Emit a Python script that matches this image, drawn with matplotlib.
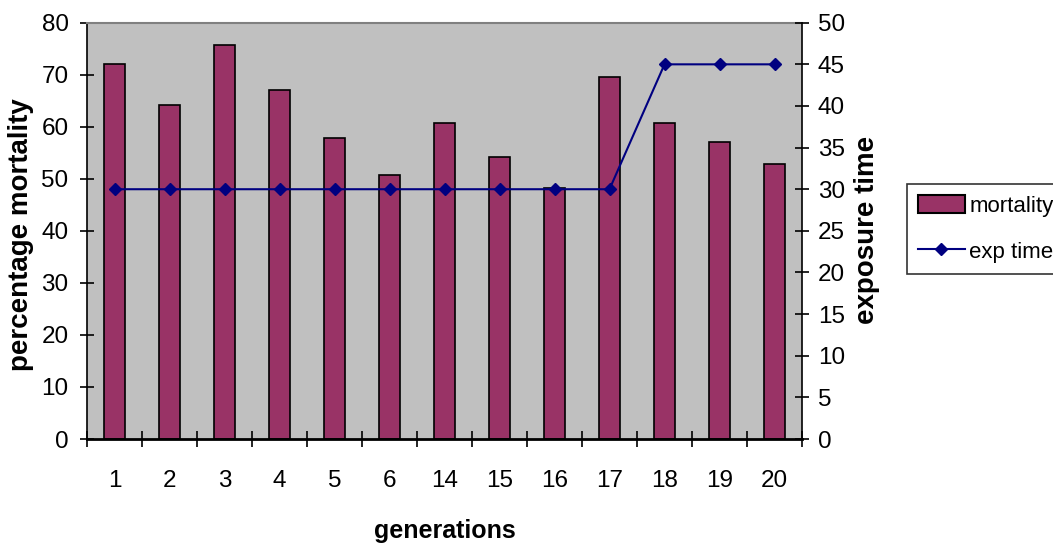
import matplotlib
matplotlib.use("Agg")
import matplotlib.pyplot as plt
from matplotlib.patches import Patch
from matplotlib.lines import Line2D

generations = ["1", "2", "3", "4", "5", "6", "14", "15", "16", "17", "18", "19", "20"]
mortality = [72.0, 64.2, 75.8, 67.0, 57.9, 50.8, 60.8, 54.2, 48.3, 69.6, 60.8, 57.0, 52.9]
exp_time = [30, 30, 30, 30, 30, 30, 30, 30, 30, 30, 45, 45, 45]
left_ticks = list(range(0, 81, 10))
right_ticks = list(range(0, 51, 5))

FONT = "Liberation Sans"
TICK_SIZE = 17.5

W, H = 1053, 544
fig = plt.figure(figsize=(W / 100, H / 100), dpi=100)

def fx(px):
    return px / W

def fy(py):
    return 1 - py / H

L, R, T, B = 87, 802, 22.7, 439
ax = fig.add_axes([fx(L), fy(B), (R - L) / W, (B - T) / H])
ax.set_facecolor("#C0C0C0")
x = list(range(len(generations)))
ax.bar(x, mortality, width=0.38, color="#993366", edgecolor="black",
       linewidth=1.2, zorder=2)
ax.set_xlim(-0.5, len(generations) - 0.5)
ax.set_ylim(0, 80)
ax.set_yticks(left_ticks)
ax.set_xticks(x)
ax.set_xticklabels(generations)
ax.set_xticks([i - 0.5 for i in range(len(generations) + 1)], minor=True)

for lab in ax.get_xticklabels() + ax.get_yticklabels():
    lab.set_fontfamily(FONT)
    lab.set_fontsize(TICK_SIZE)
ax.tick_params(axis="x", which="major", length=0, pad=22)
ax.tick_params(axis="x", which="minor", direction="inout", length=11.5, width=1.2)
ax.tick_params(axis="y", direction="inout", length=10, width=1.2, pad=8.3)

ax.spines["top"].set_color("#808080")
ax.spines["top"].set_linewidth(1.5)
ax.spines["left"].set_linewidth(1.2)
ax.spines["bottom"].set_linewidth(2)
ax.spines["right"].set_visible(False)

ax2 = ax.twinx()
ax2.plot(x, exp_time, color="#000080", linewidth=1.5, marker="D", markersize=6.5,
         zorder=3)
ax2.set_ylim(0, 50)
ax2.set_yticks(right_ticks)
for lab in ax2.get_yticklabels():
    lab.set_fontfamily(FONT)
    lab.set_fontsize(TICK_SIZE)
ax2.tick_params(axis="y", direction="inout", length=10, width=1.2, pad=6.5)
ax2.spines["right"].set_linewidth(1.2)
ax2.spines["top"].set_visible(False)
ax2.spines["left"].set_visible(False)
ax2.spines["bottom"].set_visible(False)

fig.text(fx(21), fy(235), "percentage mortality", rotation=90, ha="center", va="center",
         fontfamily=FONT, fontweight="bold", fontsize=20)
fig.text(fx(867.5), fy(230), "exposure time", rotation=90, ha="center", va="center",
         fontfamily=FONT, fontweight="bold", fontsize=20)
fig.text(fx(445), fy(531), "generations", ha="center", va="center",
         fontfamily=FONT, fontweight="bold", fontsize=18)

handles = [Patch(facecolor="#993366", edgecolor="black", linewidth=1.5),
           Line2D([], [], color="#000080", linewidth=1.5, marker="D", markersize=6.5)]
leg = fig.legend(handles, ["mortality", "exp time"], loc="upper left",
                 bbox_to_anchor=(fx(907), fy(184)), borderaxespad=0,
                 prop=dict(family=FONT, size=16), frameon=True, fancybox=False,
                 handlelength=2.1, handleheight=0.85, handletextpad=0.2,
                 labelspacing=1.1, borderpad=0.5)
leg.get_frame().set_edgecolor("black")
leg.get_frame().set_linewidth(1.2)

fig.savefig("out.png", dpi=100)
